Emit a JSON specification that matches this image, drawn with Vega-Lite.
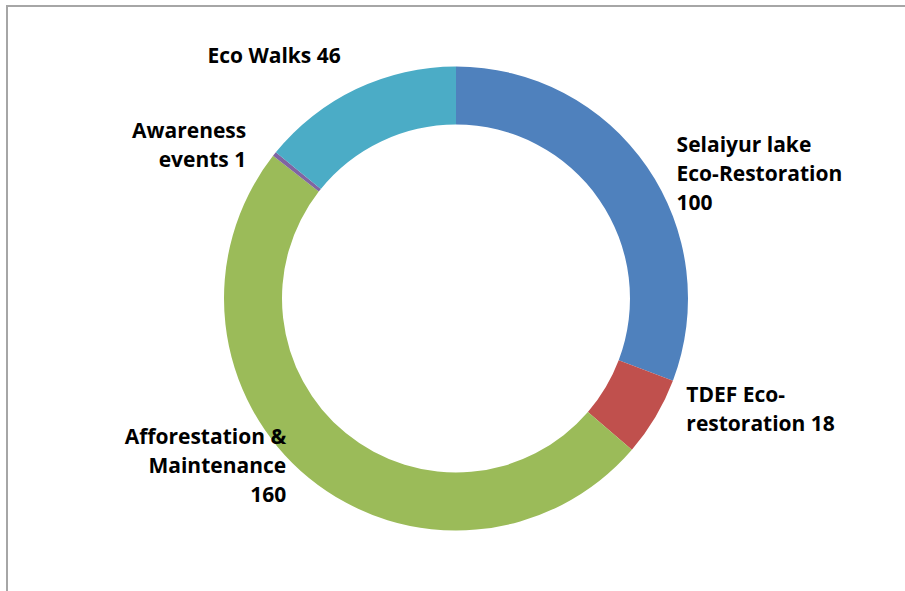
{
  "$schema": "https://vega.github.io/schema/vega-lite/v6.json",
  "width": 898,
  "height": 585,
  "autosize": "none",
  "padding": {"left": 7, "top": 6, "right": 0, "bottom": 0},
  "background": "white",
  "config": {"view": {"stroke": "#A6A6A6", "strokeWidth": 2, "strokeDash": [898, 1483, 585]}},
  "data": {"values": [
    {"category": "Selaiyur lake Eco-Restoration", "value": 100, "rank": 1, "label": ["Selaiyur lake", "Eco-Restoration", "100"]},
    {"category": "TDEF Eco-restoration", "value": 18, "rank": 2, "label": ["TDEF Eco-", "restoration  18"]},
    {"category": "Afforestation & Maintenance", "value": 160, "rank": 3, "label": ["Afforestation &", "Maintenance", "160"]},
    {"category": "Awareness events", "value": 1, "rank": 4, "label": ["Awareness", "events 1"]},
    {"category": "Eco Walks", "value": 46, "rank": 5, "label": ["Eco Walks 46"]}
  ]},
  "layer": [
    {
      "mark": {"type": "arc", "outerRadius": 232, "innerRadius": 174},
      "encoding": {
        "theta": {"field": "value", "type": "quantitative", "stack": true},
        "order": {"field": "rank", "type": "quantitative"},
        "color": {
          "field": "category",
          "type": "nominal",
          "scale": {
            "domain": ["Selaiyur lake Eco-Restoration", "TDEF Eco-restoration", "Afforestation & Maintenance", "Awareness events", "Eco Walks"],
            "range": ["#4F81BD", "#C0504D", "#9BBB59", "#8064A2", "#4BACC6"]
          },
          "legend": null
        }
      }
    },
    {
      "mark": {
        "type": "text",
        "radius": 268,
        "font": "Open Sans",
        "fontWeight": "bold",
        "fontSize": 21,
        "lineHeight": 29,
        "fill": "#000000",
        "align": {"expr": "(datum.value_start + datum.value_end) / 2 < 162.5 ? 'left' : 'right'"},
        "baseline": {"expr": "((datum.value_start + datum.value_end) / 2 > 81.25 && (datum.value_start + datum.value_end) / 2 < 243.75) ? 'bottom' : 'middle'"},
        "dy": {"expr": "((datum.value_start + datum.value_end) / 2 > 81.25 && (datum.value_start + datum.value_end) / 2 < 243.75) ? -(length(datum.label) - 1) * 29 : 0"}
      },
      "encoding": {
        "theta": {"field": "value", "type": "quantitative", "stack": true},
        "order": {"field": "rank", "type": "quantitative"},
        "detail": {"field": "category", "type": "nominal"},
        "text": {"field": "label"}
      }
    },
    {
      "transform": [{"filter": "false"}],
      "mark": {"type": "rule"},
      "encoding": {
        "x": {"field": "value", "type": "quantitative", "axis": null},
        "y": {"field": "value", "type": "quantitative", "axis": null}
      }
    }
  ]
}
